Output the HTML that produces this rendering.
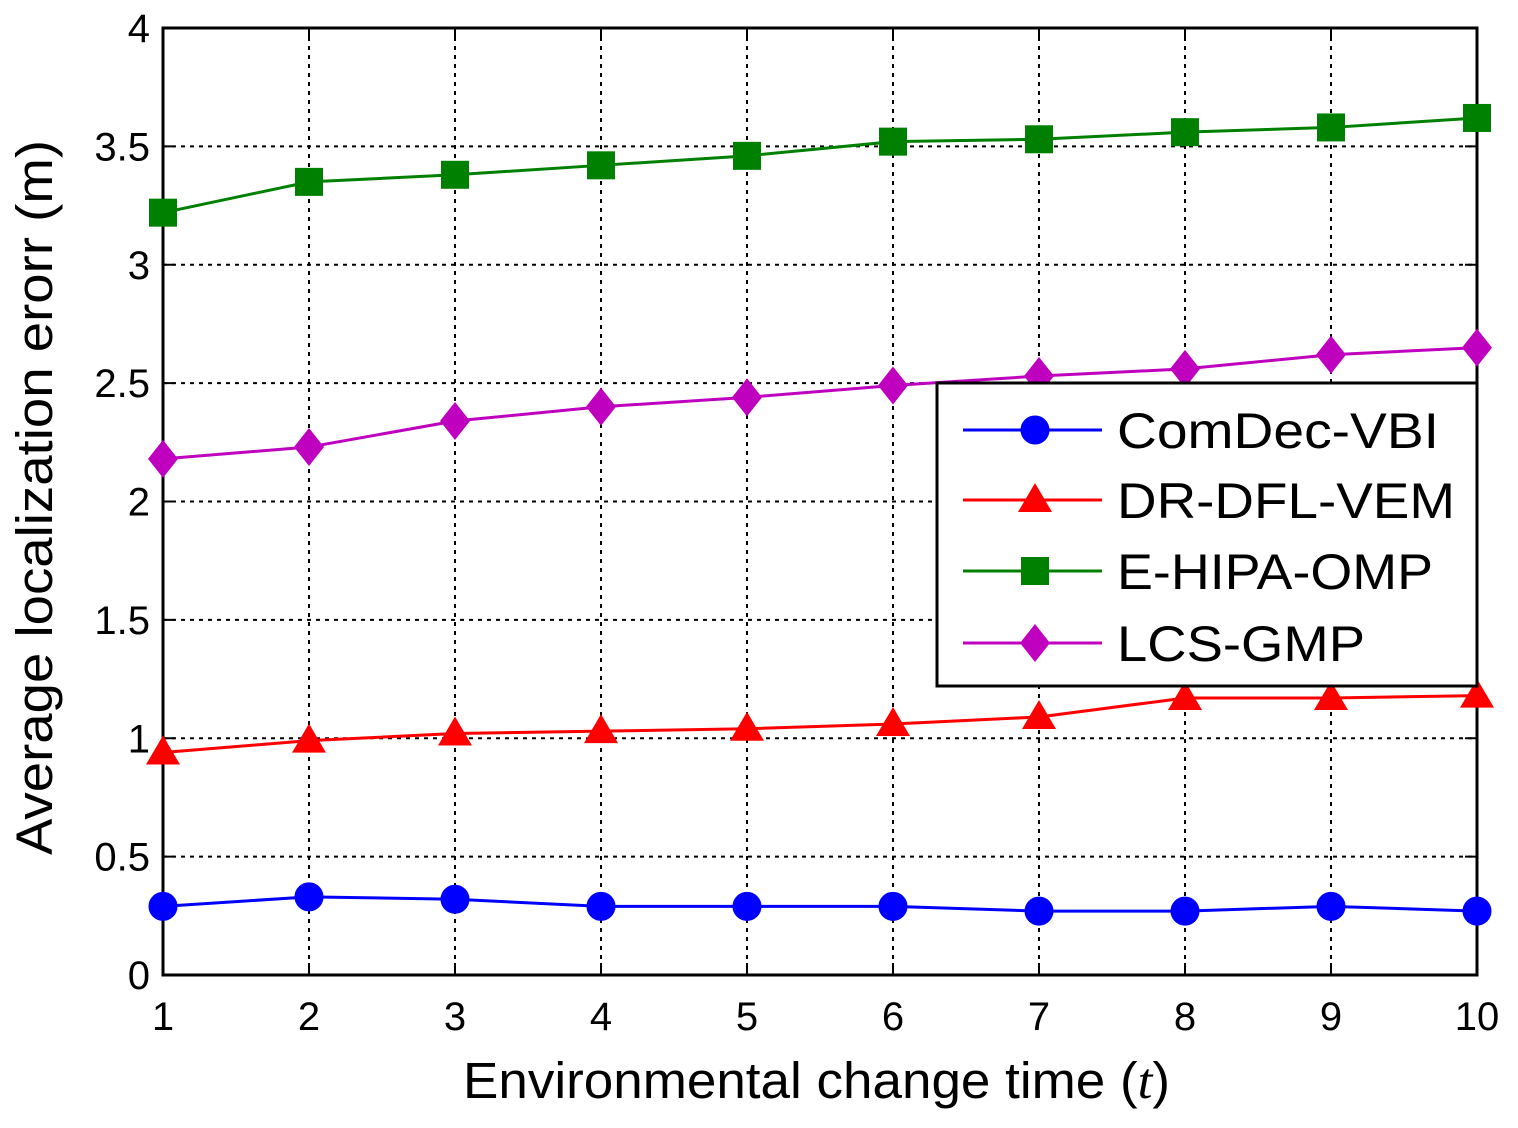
<!DOCTYPE html>
<html><head><meta charset="utf-8"><style>
html,body{margin:0;padding:0;background:#fff;}
svg{display:block;font-family:"Liberation Sans",Arial,sans-serif;}
</style></head><body>
<svg id="chart" width="1518" height="1128" viewBox="0 0 1518 1128"></svg>
<script>
const categories=[1,2,3,4,5,6,7,8,9,10];
const yTicks=[0,0.5,1,1.5,2,2.5,3,3.5,4];
const yTickLabels=["0","0.5","1","1.5","2","2.5","3","3.5","4"];
const comdec=[0.29,0.33,0.32,0.29,0.29,0.29,0.27,0.27,0.29,0.27];
const drdfl=[0.94,0.99,1.02,1.03,1.04,1.06,1.09,1.17,1.17,1.18];
const ehipa=[3.22,3.35,3.38,3.42,3.46,3.52,3.53,3.56,3.58,3.62];
const lcs=[2.18,2.23,2.34,2.40,2.44,2.49,2.53,2.56,2.62,2.65];
const seriesNames=["ComDec-VBI","DR-DFL-VEM","E-HIPA-OMP","LCS-GMP"];

const NS="http://www.w3.org/2000/svg";
const svg=document.getElementById('chart');
const L=163,R=1477,T=28,B=975;
const xs=v=>L+(v-1)*(R-L)/9;
const ys=v=>B-v*(B-T)/4;
function mk(tag,attrs,parent){const e=document.createElementNS(NS,tag);for(const k in attrs)e.setAttribute(k,attrs[k]);(parent||svg).appendChild(e);return e;}

const grid=mk('g',{});


categories.forEach(c=>{if(c>1&&c<10)mk('line',{x1:xs(c),x2:xs(c),y1:T,y2:B,stroke:'#000','stroke-width':2,'stroke-dasharray':'4,5'},grid);});
yTicks.forEach(v=>{if(v>0&&v<4)mk('line',{x1:L,x2:R,y1:ys(v),y2:ys(v),stroke:'#000','stroke-width':2,'stroke-dasharray':'4,5'},grid);});
const frame=mk('rect',{x:L,y:T,width:R-L,height:B-T,fill:'none',stroke:'#000','stroke-width':3});


categories.forEach(c=>{
  mk('line',{x1:xs(c),x2:xs(c),y1:B,y2:B-12,stroke:'#000','stroke-width':2});
  mk('line',{x1:xs(c),x2:xs(c),y1:T,y2:T+12,stroke:'#000','stroke-width':2});
  const t=mk('text',{x:xs(c),y:1030,'font-size':40,'text-anchor':'middle'});
  t.textContent=c;
  
  
});
yTicks.forEach((v,i)=>{
  mk('line',{x1:L,x2:L+12,y1:ys(v),y2:ys(v),stroke:'#000','stroke-width':2});
  mk('line',{x1:R,x2:R-12,y1:ys(v),y2:ys(v),stroke:'#000','stroke-width':2});
  const t=mk('text',{x:150,y:ys(v)+14,'font-size':40,'text-anchor':'end'});
  t.textContent=yTickLabels[i];
  
  
});
const xt=mk('text',{x:463,y:1098,'font-size':51,textLength:707,lengthAdjust:'spacingAndGlyphs'});
xt.innerHTML='Environmental change time (<tspan font-family="Liberation Serif" font-style="italic">t</tspan>)';


const yt=mk('text',{x:-855,y:0,'font-size':51,textLength:715,lengthAdjust:'spacingAndGlyphs',transform:'translate(52,0) rotate(-90)'});
yt.textContent='Average localization erorr (m)';



function marker(g,type,x,y,color){
  if(type==='circle')mk('circle',{cx:x,cy:y,r:14,fill:color,stroke:color},g);
  else if(type==='tri')mk('polygon',{points:`${x},${y-17} ${x+17},${y+12} ${x-17},${y+12}`,fill:color},g);
  else if(type==='square')mk('rect',{x:x-14,y:y-14,width:28,height:28,fill:color},g);
  else mk('polygon',{points:`${x},${y-19} ${x+15},${y} ${x},${y+19} ${x-15},${y}`,fill:color},g);
}
const series=[[comdec,'#0000ff','circle','series-comdec-vbi'],[drdfl,'#ff0000','tri','series-dr-dfl-vem'],[ehipa,'#008000','square','series-e-hipa-omp'],[lcs,'#bf00bf','diamond','series-lcs-gmp']];
series.forEach(([d,col,m,name])=>{
  const g=mk('g',{});
  
  
  mk('polyline',{points:d.map((v,i)=>xs(categories[i])+','+ys(v)).join(' '),fill:'none',stroke:col,'stroke-width':3},g);
  d.forEach((v,i)=>marker(g,m,xs(categories[i]),ys(v),col));
});
const lg=mk('g',{});


mk('rect',{x:937,y:383,width:540,height:303,fill:'#fff',stroke:'#000','stroke-width':3},lg);
const ly=[430,500,571,643];
const lw=[322,338,316,248];
series.forEach(([d,col,m,name],i)=>{
  const e=mk('g',{},lg);
  
  
  mk('line',{x1:963,x2:1102,y1:ly[i],y2:ly[i],stroke:col,'stroke-width':3},e);
  marker(e,m,1035,ly[i],col);
  const t=mk('text',{x:1117,y:ly[i]+18,'font-size':50,textLength:lw[i],lengthAdjust:'spacingAndGlyphs'},e);
  t.textContent=seriesNames[i];
});
</script>
</body></html>
